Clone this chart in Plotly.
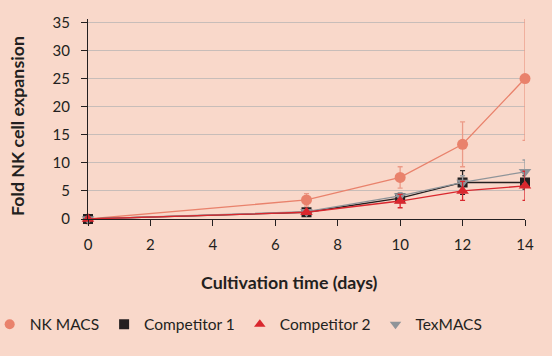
import plotly.graph_objects as go

days = [0, 7, 10, 12, 14]
x_ticks = [0, 2, 4, 6, 8, 10, 12, 14]
y_ticks = [0, 5, 10, 15, 20, 25, 30, 35]

nk_macs = [0, 3.4, 7.4, 13.3, 25.0]
nk_macs_err = [0, 1.1, 1.9, 4.0, 11.0]
competitor1 = [0, 1.2, 3.7, 6.5, 6.5]
competitor1_err = [0, 0.3, 0.6, 2.1, 1.2]
competitor2 = [0, 1.2, 3.2, 5.0, 5.9]
competitor2_err = [0, 0.3, 1.2, 1.7, 2.6]
texmacs = [0, 1.3, 4.1, 6.5, 8.4]
texmacs_err = [0, 0.3, 0.6, 1.2, 2.1]

series = [
    ("NK MACS", nk_macs, nk_macs_err, "#e9826c", "#eb9a87", "circle", 11),
    ("Competitor 1", competitor1, competitor1_err, "#231f20", "#231f20", "square", 10),
    ("TexMACS", texmacs, texmacs_err, "#8f9499", "#9a9ea3", "triangle-down", 11),
    ("Competitor 2", competitor2, competitor2_err, "#d9272e", "#d9272e", "triangle-up", 11),
]
legend_order = ["NK MACS", "Competitor 1", "Competitor 2", "TexMACS"]

BG = "#f9d8ca"
TXT = "#231f20"
FONT = "Lato"

fig = go.Figure()
for name, vals, errs, col, ecol, sym, size in series:
    fig.add_trace(go.Scatter(
        x=days, y=vals, mode="lines+markers", name=name, showlegend=False,
        line=dict(color=col, width=1.3),
        marker=dict(symbol=sym, size=size, color=col),
        error_y=dict(type="data", array=errs, visible=True, color=ecol, thickness=1.3, width=2.5),
        cliponaxis=False,
    ))

info = {s[0]: s for s in series}
for name in legend_order:
    _, _, _, col, _, sym, size = info[name]
    fig.add_trace(go.Scatter(
        x=[None], y=[None], mode="markers", name=name,
        marker=dict(symbol=sym, size=10, color=col),
    ))

fig.update_layout(
    width=552, height=356,
    margin=dict(l=88, r=27, t=19, b=137, autoexpand=False),
    paper_bgcolor=BG, plot_bgcolor=BG,
    font=dict(family=FONT, size=14, color=TXT),
    showlegend=True,
    legend=dict(orientation="h", xref="paper", yref="paper",
                x=-0.225, xanchor="left", y=-0.528, yanchor="middle",
                font=dict(size=15.5, color=TXT), bgcolor="rgba(0,0,0,0)",
                itemwidth=30, tracegroupgap=0),
    xaxis=dict(range=[0, 14], tickvals=x_ticks, ticks="outside", ticklen=6, tickcolor=TXT,
               tickwidth=1.2, showline=True, linecolor=TXT, linewidth=1.2, showgrid=False,
               zeroline=False, ticklabelstandoff=6, tickfont=dict(size=15, color=TXT)),
    yaxis=dict(range=[0, 35.6], tickvals=y_ticks, ticks="outside", ticklen=6, tickcolor=TXT,
               tickwidth=1.2, showline=True, linecolor=TXT, linewidth=1.2, showgrid=True,
               gridcolor="#c8bdb9", gridwidth=1, zeroline=False, ticklabelstandoff=8,
               tickfont=dict(size=15, color=TXT)),
    annotations=[
        dict(text="<b>Fold NK cell expansion</b>", xref="paper", yref="paper",
             x=-0.1625, y=0.465, textangle=-90, showarrow=False,
             xanchor="center", yanchor="middle", font=dict(size=17.8, color=TXT, family=FONT)),
        dict(text="<b>Cultivation time (days)</b>", xref="paper", yref="paper",
             x=0.46, y=-0.313, showarrow=False,
             xanchor="center", yanchor="middle", font=dict(size=17.8, color=TXT, family=FONT)),
    ],
)

fig.write_html("out.html", config={"displayModeBar": False},
               post_script="document.body.style.margin='0';document.body.style.padding='0';")
